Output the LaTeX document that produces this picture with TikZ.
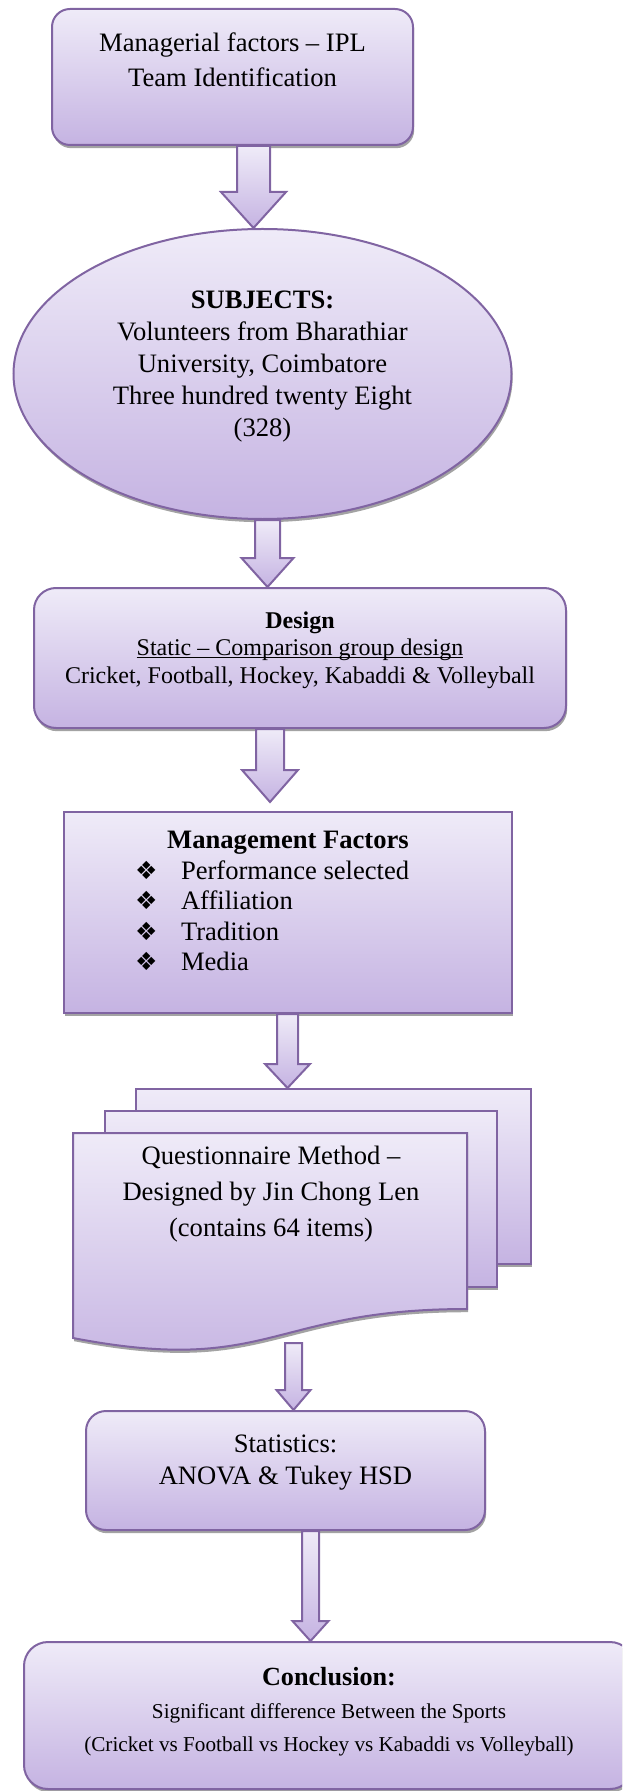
\documentclass[tikz,border=0pt]{standalone}
\usepackage{fontspec}
\setmainfont{Liberation Serif}
\newfontfamily\dingfont{DejaVu Sans}
\usetikzlibrary{shapes.geometric, shadows, calc}

\definecolor{boxtop}{HTML}{EFEBF8}
\definecolor{boxbottom}{HTML}{C5B3E2}
\definecolor{boxline}{HTML}{8064A2}
\definecolor{shadowgray}{HTML}{A3A3A3}

% bullet line of the factor list
\newcommand{\factor}[1]{\makebox[153pt][l]{\makebox[23pt][l]{\dingfont\fontsize{12.5pt}{12.5pt}\selectfont ❖}#1}}
% underline through the descenders, as in the source
\newcommand{\wordul}[1]{\setbox0\hbox{#1}\rlap{\rule[-1.3pt]{\wd0}{0.5pt}}\box0}

% block arrow: [gap] from, to, x, half shaft, half head, head length (px)
\newcommand{\flowarrow}[7][0]{%
  \pgfmathsetmacro{\shL}{#4-#5}\pgfmathsetmacro{\shR}{#4+#5}%
  \pgfmathsetmacro{\hdL}{#4-#6}\pgfmathsetmacro{\hdR}{#4+#6}%
  \pgfmathsetmacro{\tipup}{#1*0.5}\pgfmathsetmacro{\hdup}{(#1+#7)*0.5}%
  \draw[blockarrow] (\shL,0 |- #2) -- (\shR,0 |- #2)
    -- ([yshift=\hdup pt]\shR,0 |- #3) -- ([yshift=\hdup pt]\hdR,0 |- #3)
    -- ([yshift=\tipup pt]#4,0 |- #3)
    -- ([yshift=\hdup pt]\hdL,0 |- #3) -- ([yshift=\hdup pt]\shL,0 |- #3) -- cycle;}

\begin{document}
\begin{tikzpicture}[x=0.5pt, y=-0.5pt,
    purplefill/.style={draw=boxline, line width=1pt, top color=boxtop, bottom color=boxbottom},
    shadowed/.style={drop shadow={shadow xshift=0.6pt, shadow yshift=-1.6pt, fill=shadowgray, opacity=1}},
    roundbox/.style={purplefill, shadowed, rounded corners=9pt, align=center, inner sep=0pt},
    plainbox/.style={purplefill, shadowed, align=center, inner sep=0pt},
    subjectoval/.style={purplefill, shadowed, ellipse, align=center, inner sep=0pt},
    sheet/.style={purplefill, shadowed, inner sep=0pt},
    blockarrow/.style={draw=boxline, line width=1pt, top color=boxtop, bottom color=boxbottom}
]
\useasboundingbox (0,0) rectangle (622,1791);
\clip (0,0) rectangle (622,1791);

% Start box
\node[roundbox, minimum width=180.5pt, minimum height=68pt, font=\fontsize{13.3pt}{17.5pt}\selectfont] (mgr) at (232.5,77) {Managerial factors – IPL\\Team Identification\\\mbox{}};

% Subjects
\node[subjectoval, minimum width=249pt, minimum height=145pt, font=\fontsize{13.3pt}{16pt}\selectfont] (subj) at (262.5,374) {\textbf{SUBJECTS:}\\Volunteers from Bharathiar\\University, Coimbatore\\Three hundred twenty Eight\\(328)\\[-6pt]\mbox{}};

% Design
\node[roundbox, rounded corners=11pt, minimum width=266pt, minimum height=70pt, font=\fontsize{12pt}{13.75pt}\selectfont] (design) at (300,658) {\textbf{Design}\\\wordul{Static – Comparison group design}\\Cricket, Football, Hockey, Kabaddi \& Volleyball\\[-3pt]\mbox{}};

% Management factors
\node[plainbox, minimum width=224pt, minimum height=100.5pt, font=\fontsize{13.3pt}{15.25pt}\selectfont] (mgmt) at (288,912.5) {\textbf{Management Factors}\\\factor{Performance selected}\\\factor{Affiliation}\\\factor{Tradition}\\\factor{Media}\\[-4pt]\mbox{}};

% Questionnaire (stacked pages)
\node[sheet, minimum width=197.5pt, minimum height=87.5pt] (page3) at (333.5,1176.5) {};
\node[sheet, minimum width=196pt, minimum height=88pt] (page2) at (301,1199) {};
\draw[purplefill, shadowed] (73,1133) -- (467,1133) -- (467,1309) .. controls (270,1309) and (270,1376) .. (73,1338) -- cycle;
\node[align=center, font=\fontsize{13.3pt}{18pt}\selectfont] (quest) at (271,1194) {Questionnaire Method –\\Designed by Jin Chong Len\\(contains 64 items)};
\coordinate (qbot) at (293.5,1343);

% Statistics
\node[roundbox, rounded corners=10pt, minimum width=199.5pt, minimum height=59.5pt, font=\fontsize{13.3pt}{16pt}\selectfont] (stats) at (285.5,1470.5) {Statistics:\\ANOVA \& Tukey HSD\\[-5pt]\mbox{}};

% Conclusion
\node[roundbox, rounded corners=12pt, minimum width=305pt, minimum height=73.5pt, font=\fontsize{10.6pt}{16.5pt}\selectfont] (concl) at (329,1715.5) {{\fontsize{13.1pt}{16.5pt}\selectfont\bfseries Conclusion:}\\Significant difference Between the Sports\\(Cricket vs Football vs Hockey vs Kabaddi vs Volleyball)\\[-10pt]\mbox{}};

% Block arrows
\flowarrow{mgr.south}{subj.north}{253.5}{16.5}{32.5}{36}
\flowarrow{subj.south}{design.north}{267.5}{12.5}{26}{29}
\flowarrow[9]{design.south}{mgmt.north}{270}{14}{28}{32}
\flowarrow{mgmt.south}{page3.north}{287.5}{10.5}{22.5}{24}
\flowarrow{qbot}{stats.north}{293.5}{8.5}{17}{20}
\flowarrow{stats.south}{concl.north}{310.5}{8.5}{18}{20}

\end{tikzpicture}
\end{document}
